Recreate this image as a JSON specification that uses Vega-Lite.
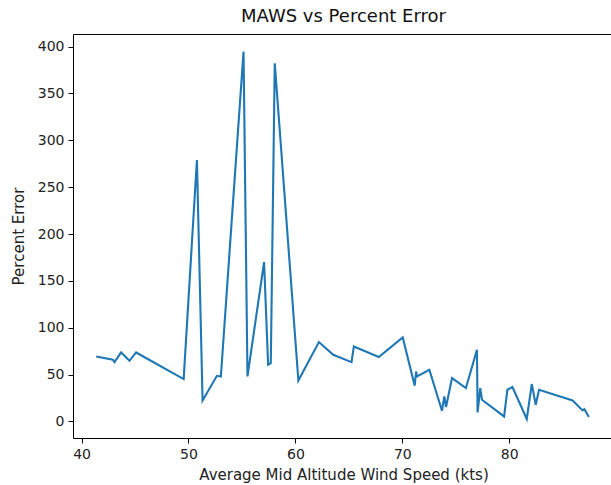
{
  "$schema": "https://vega.github.io/schema/vega-lite/v6.json",
  "width": 541,
  "height": 404,
  "autosize": {"type": "none"},
  "padding": {"left": 73, "top": 34, "right": 0, "bottom": 47},
  "background": "white",
  "config": {
    "font": "DejaVu Sans",
    "view": {"stroke": "#000000", "strokeWidth": 1},
    "axis": {
      "domain": false,
      "grid": false,
      "tickColor": "#000000",
      "tickSize": 5,
      "tickWidth": 1,
      "labelFont": "DejaVu Sans",
      "labelFontSize": 14,
      "labelColor": "#222222",
      "labelPadding": 4,
      "titleFont": "DejaVu Sans",
      "titleFontSize": 15,
      "titleFontWeight": "normal",
      "titleColor": "#222222"
    },
    "title": {"font": "DejaVu Sans", "fontSize": 18, "fontWeight": "normal", "color": "#111111"}
  },
  "title": {"text": "MAWS vs Percent Error", "offset": 8},
  "data": {
    "values": [
      {"speed": 41.37, "error": 69.3},
      {"speed": 42.93, "error": 65.8},
      {"speed": 43.08, "error": 63.3},
      {"speed": 43.70, "error": 73.6},
      {"speed": 44.48, "error": 64.7},
      {"speed": 45.10, "error": 73.6},
      {"speed": 49.55, "error": 45.2},
      {"speed": 50.79, "error": 279.0},
      {"speed": 51.32, "error": 22.4},
      {"speed": 52.66, "error": 48.7},
      {"speed": 53.03, "error": 48.0},
      {"speed": 55.15, "error": 394.7},
      {"speed": 55.52, "error": 48.0},
      {"speed": 57.07, "error": 170.0},
      {"speed": 57.45, "error": 60.5},
      {"speed": 57.70, "error": 62.3},
      {"speed": 58.07, "error": 382.3},
      {"speed": 60.28, "error": 43.7},
      {"speed": 62.20, "error": 84.7},
      {"speed": 63.54, "error": 71.1},
      {"speed": 65.25, "error": 63.3},
      {"speed": 65.47, "error": 80.0},
      {"speed": 67.80, "error": 68.7},
      {"speed": 70.04, "error": 89.6},
      {"speed": 71.16, "error": 38.1},
      {"speed": 71.29, "error": 53.3},
      {"speed": 71.38, "error": 48.0},
      {"speed": 72.53, "error": 55.1},
      {"speed": 73.71, "error": 11.4},
      {"speed": 73.93, "error": 26.7},
      {"speed": 74.09, "error": 15.4},
      {"speed": 74.65, "error": 46.3},
      {"speed": 75.95, "error": 35.6},
      {"speed": 76.98, "error": 76.5},
      {"speed": 77.04, "error": 9.6},
      {"speed": 77.29, "error": 35.6},
      {"speed": 77.45, "error": 23.1},
      {"speed": 79.52, "error": 5.3},
      {"speed": 79.83, "error": 33.8},
      {"speed": 80.30, "error": 36.7},
      {"speed": 81.64, "error": 2.6},
      {"speed": 82.11, "error": 39.9},
      {"speed": 82.48, "error": 17.8},
      {"speed": 82.79, "error": 33.8},
      {"speed": 85.93, "error": 22.4},
      {"speed": 86.86, "error": 11.7},
      {"speed": 87.02, "error": 13.2},
      {"speed": 87.45, "error": 4.7}
    ]
  },
  "mark": {"type": "line", "color": "#1f77b4", "strokeWidth": 2.1, "clip": true},
  "encoding": {
    "x": {
      "field": "speed",
      "type": "quantitative",
      "scale": {"domain": [39.2, 89.8], "nice": false, "zero": false},
      "axis": {"values": [40, 50, 60, 70, 80], "title": "Average Mid Altitude Wind Speed (kts)", "titlePadding": 6}
    },
    "y": {
      "field": "error",
      "type": "quantitative",
      "scale": {"domain": [-17.7, 413.5], "nice": false, "zero": false},
      "axis": {"values": [0, 50, 100, 150, 200, 250, 300, 350, 400], "title": "Percent Error", "titlePadding": 11}
    }
  }
}
